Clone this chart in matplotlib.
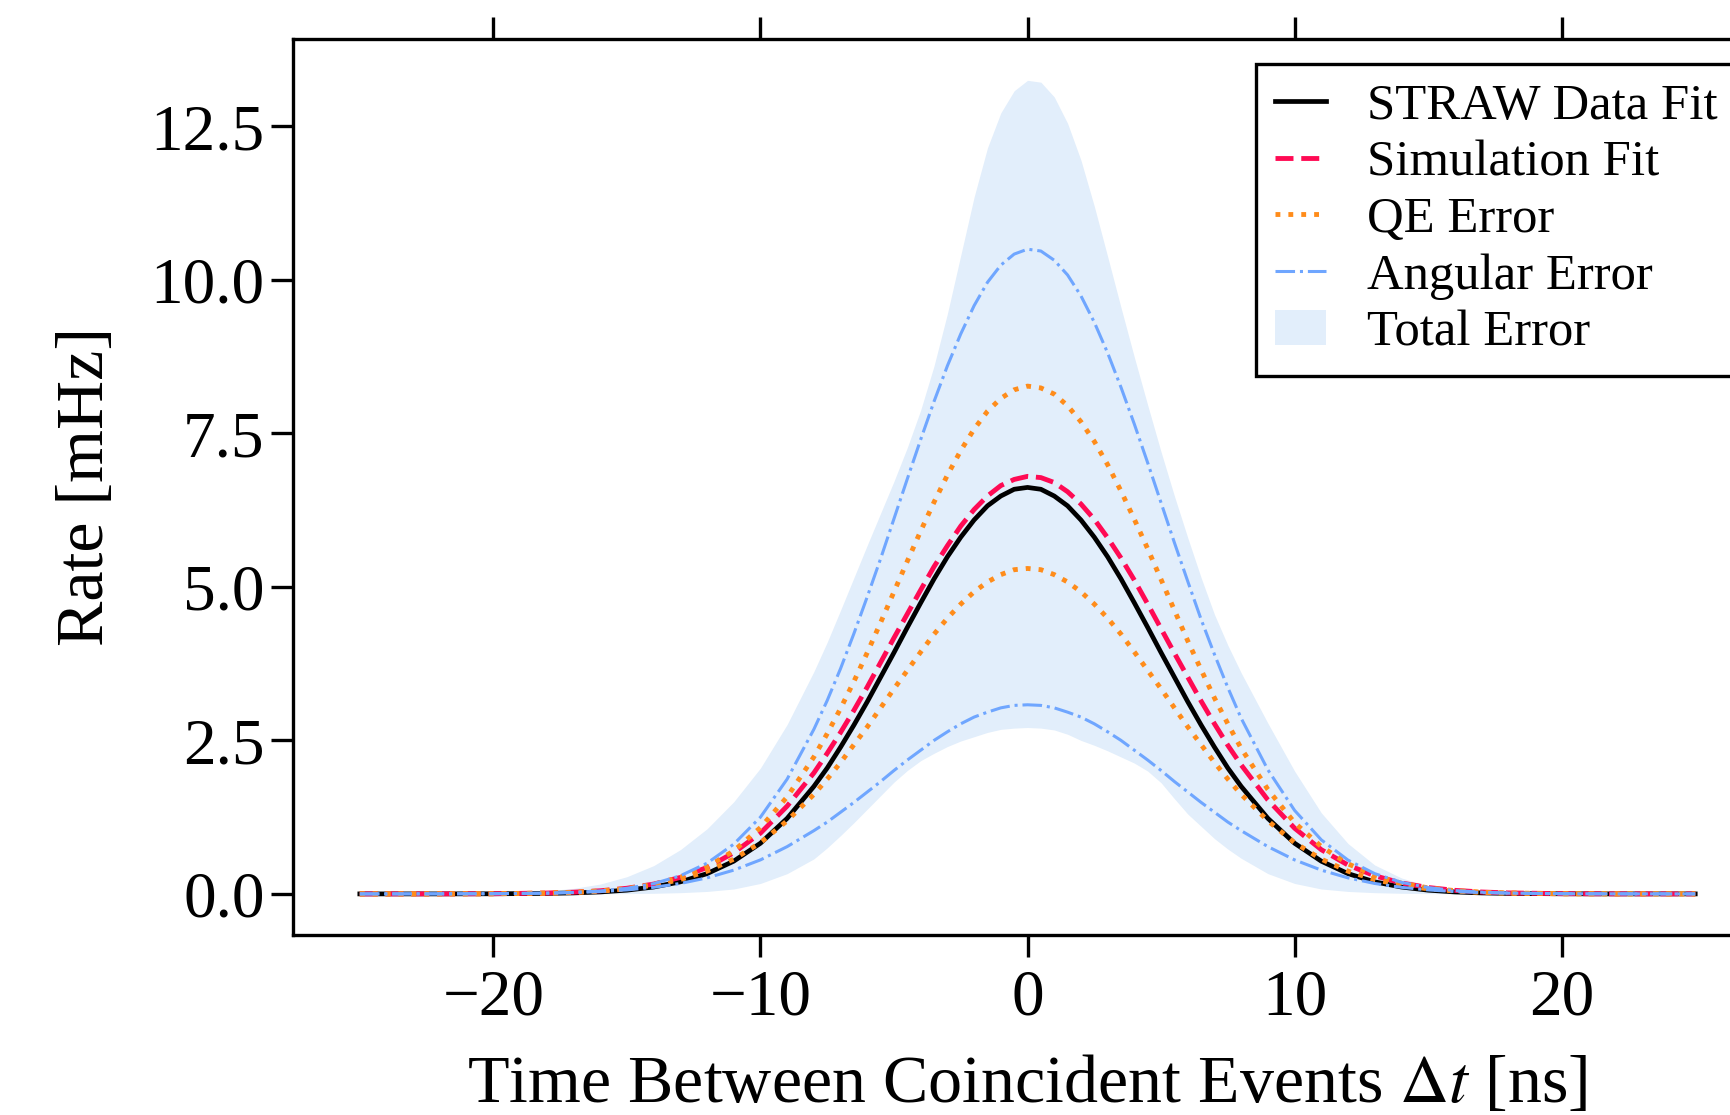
import numpy as np
import matplotlib
matplotlib.use('Agg')
import matplotlib.pyplot as plt
from matplotlib.patches import Patch
from matplotlib.lines import Line2D

plt.rcParams['font.family'] = ['Liberation Serif', 'DejaVu Serif']
plt.rcParams['mathtext.fontset'] = 'stix'

# time grid for the fitted curves [ns]
t_line = [-25, -22, -20, -18, -17,
          -16, -15, -14, -13, -12, -11, -10, -9,
          -8, -7.5, -7, -6.5, -6, -5.5, -5, -4.5, -4, -3.5, -3, -2.5, -2, -1.5, -1, -0.5,
          0,
          0.5, 1, 1.5, 2, 2.5, 3, 3.5, 4, 4.5, 5, 5.5, 6, 6.5, 7, 7.5, 8,
          9, 10, 11, 12, 13, 14, 15, 16,
          17, 18, 20, 22, 25]

straw_fit = [0.0, 0.0, 0.002, 0.008, 0.016,
             0.032, 0.061, 0.112, 0.196, 0.330, 0.533, 0.825, 1.23,
             1.75, 2.05, 2.39, 2.75, 3.13, 3.53, 3.93, 4.34, 4.74, 5.13, 5.49, 5.81, 6.09, 6.32, 6.48, 6.59,
             6.62,
             6.59, 6.48, 6.32, 6.09, 5.81, 5.49, 5.13, 4.74, 4.34, 3.93, 3.53, 3.13, 2.75, 2.39, 2.05, 1.75,
             1.23, 0.825, 0.533, 0.330, 0.196, 0.112, 0.061, 0.032,
             0.016, 0.008, 0.002, 0.0, 0.0]

sim_fit = [0.0, 0.001, 0.003, 0.014, 0.028,
           0.051, 0.092, 0.160, 0.268, 0.43, 0.67, 0.99, 1.43,
           1.97, 2.29, 2.63, 2.99, 3.37, 3.77, 4.17, 4.56, 4.95, 5.33, 5.67, 5.99, 6.26, 6.48, 6.65, 6.75,
           6.80,
           6.78, 6.70, 6.55, 6.35, 6.10, 5.80, 5.47, 5.11, 4.72, 4.32, 3.92, 3.53, 3.14, 2.77, 2.42, 2.10,
           1.53, 1.07, 0.72, 0.47, 0.295, 0.178, 0.104, 0.058,
           0.031, 0.016, 0.004, 0.001, 0.0]

qe_high = [0.0, 0.0005, 0.002, 0.012, 0.024,
           0.046, 0.087, 0.155, 0.267, 0.44, 0.70, 1.08, 1.58,
           2.23, 2.61, 3.02, 3.46, 3.93, 4.42, 4.92, 5.42, 5.91, 6.38, 6.82, 7.22, 7.57, 7.86, 8.07, 8.21,
           8.27,
           8.24, 8.14, 7.95, 7.69, 7.37, 6.99, 6.56, 6.10, 5.62, 5.12, 4.62, 4.12, 3.65, 3.19, 2.77, 2.37,
           1.70, 1.16, 0.77, 0.49, 0.297, 0.174, 0.098, 0.053,
           0.027, 0.014, 0.002, 0.0005, 0.0]

qe_low = [0.0, 0.001, 0.003, 0.013, 0.025,
          0.047, 0.083, 0.141, 0.233, 0.370, 0.566, 0.834, 1.19,
          1.62, 1.87, 2.14, 2.43, 2.72, 3.03, 3.34, 3.64, 3.94, 4.23, 4.49, 4.72, 4.92, 5.08, 5.20, 5.28,
          5.30,
          5.28, 5.20, 5.08, 4.92, 4.72, 4.49, 4.23, 3.94, 3.64, 3.34, 3.03, 2.72, 2.43, 2.14, 1.87, 1.62,
          1.19, 0.834, 0.566, 0.370, 0.233, 0.141, 0.083, 0.047,
          0.025, 0.013, 0.003, 0.001, 0.0]

ang_high = [0.0, 0.0007, 0.003, 0.012, 0.024,
            0.048, 0.091, 0.167, 0.295, 0.50, 0.81, 1.25, 1.87,
            2.68, 3.15, 3.67, 4.24, 4.84, 5.46, 6.11, 6.76, 7.40, 8.02, 8.60, 9.12, 9.58, 9.96, 10.24, 10.42,
            10.50,
            10.47, 10.32, 10.08, 9.74, 9.31, 8.81, 8.25, 7.65, 7.02, 6.37, 5.72, 5.09, 4.47, 3.90, 3.36, 2.86,
            2.02, 1.36, 0.88, 0.55, 0.33, 0.188, 0.103, 0.054,
            0.028, 0.014, 0.003, 0.0007, 0.0]

ang_low = [0.0, 0.001, 0.003, 0.012, 0.022,
           0.038, 0.065, 0.107, 0.170, 0.261, 0.387, 0.554, 0.77,
           1.03, 1.17, 1.33, 1.49, 1.66, 1.83, 2.01, 2.18, 2.34, 2.50, 2.64, 2.77, 2.88, 2.96, 3.03, 3.07,
           3.08,
           3.07, 3.03, 2.96, 2.88, 2.77, 2.64, 2.50, 2.34, 2.18, 2.01, 1.83, 1.66, 1.49, 1.33, 1.17, 1.03,
           0.77, 0.554, 0.387, 0.261, 0.170, 0.107, 0.065, 0.038,
           0.022, 0.012, 0.003, 0.001, 0.0]

# total error band
t_band = [-25, -20, -18, -17,
          -16, -15, -14, -13, -12, -11, -10, -9,
          -8, -7.5, -7, -6.5, -6, -5.5, -5, -4.5, -4, -3.5, -3, -2.5, -2, -1.5, -1, -0.5,
          0,
          0.5, 1, 1.5, 2, 2.5, 3, 3.5, 4, 4.5, 5, 5.5, 6, 6.5, 7, 7.5, 8,
          9, 10, 11, 12, 13, 14, 15, 16,
          17, 18, 20, 25]

band_high = [0.0, 0.015, 0.05, 0.09,
             0.16, 0.28, 0.46, 0.72, 1.06, 1.5, 2.05, 2.76,
             3.62, 4.1, 4.62, 5.15, 5.68, 6.2, 6.72, 7.27, 7.88, 8.6, 9.45, 10.4, 11.35, 12.15, 12.72, 13.08,
             13.25,
             13.22, 12.98, 12.55, 11.95, 11.2, 10.38, 9.55, 8.74, 7.96, 7.2, 6.48, 5.8, 5.15, 4.55, 4.05, 3.6,
             2.78, 2.0, 1.32, 0.82, 0.47, 0.26, 0.13, 0.065,
             0.03, 0.015, 0.005, 0.0]

band_low = [0.0, 0.0, 0.0, 0.0,
            0.002, 0.005, 0.01, 0.02, 0.04, 0.08, 0.17, 0.33,
            0.57, 0.75, 0.95, 1.16, 1.38, 1.6, 1.82, 2.01, 2.17, 2.29, 2.40, 2.49, 2.56, 2.63, 2.68, 2.70,
            2.71,
            2.70, 2.67, 2.60, 2.50, 2.42, 2.33, 2.23, 2.13, 2.0, 1.81, 1.55, 1.30, 1.10, 0.90, 0.73, 0.58,
            0.33, 0.17, 0.08, 0.04, 0.02, 0.01, 0.005, 0.002,
            0.0, 0.0, 0.0, 0.0]

c_sim = '#ff0a54'
c_qe = '#ff8c1a'
c_ang = '#6fa6ff'
c_band = '#e2eefb'

fig = plt.figure(figsize=(17.31, 11.15), dpi=100)
ax = fig.add_axes([0.1693, 0.1614, 0.8486, 0.804])

ax.fill_between(t_band, band_low, band_high, color=c_band, lw=0, zorder=1)
ax.plot(t_line, straw_fit, color='black', lw=3.4, zorder=3)
ax.plot(t_line, sim_fit, color=c_sim, lw=3.5, ls='--', zorder=4)
ax.plot(t_line, qe_high, color=c_qe, lw=3.5, ls=':', zorder=5)
ax.plot(t_line, qe_low, color=c_qe, lw=3.5, ls=':', zorder=5)
ax.plot(t_line, ang_high, color=c_ang, lw=2.2, ls='-.', zorder=6)
ax.plot(t_line, ang_low, color=c_ang, lw=2.2, ls='-.', zorder=6)

ax.set_xlim(-27.5, 27.5)
ax.set_ylim(-0.67, 13.93)
ax.set_xticks([-20, -10, 0, 10, 20])
ax.set_yticks([0, 2.5, 5, 7.5, 10, 12.5])
ax.set_yticklabels(['0.0', '2.5', '5.0', '7.5', '10.0', '12.5'])

for s in ax.spines.values():
    s.set_linewidth(2.4)
ax.tick_params(axis='both', which='major', direction='out', length=15.5, width=2.4,
               labelsize=47, top=True, right=True)
ax.tick_params(axis='y', pad=5)
ax.tick_params(axis='x', pad=9)

ax.set_xlabel(r'Time Between Coincident Events $\Delta t$ [ns]', fontsize=49, labelpad=19)
ax.set_ylabel('Rate [mHz]', fontsize=49, labelpad=24)

handles = [
    Line2D([], [], color='black', lw=3.4),
    Line2D([], [], color=c_sim, lw=3.5, ls='--'),
    Line2D([], [], color=c_qe, lw=3.5, ls=':'),
    Line2D([], [], color=c_ang, lw=2.2, ls='-.'),
    Patch(facecolor=c_band, edgecolor='none'),
]
labels = ['STRAW Data Fit', 'Simulation Fit', 'QE Error', 'Angular Error', 'Total Error']
leg = ax.legend(handles, labels, loc='upper right', fontsize=36.5, handlelength=1.0,
                labelspacing=0.2, borderpad=0.38, fancybox=False, framealpha=1,
                edgecolor='black')
leg.get_frame().set_linewidth(2.4)

fig.savefig('out.png', dpi=100)
